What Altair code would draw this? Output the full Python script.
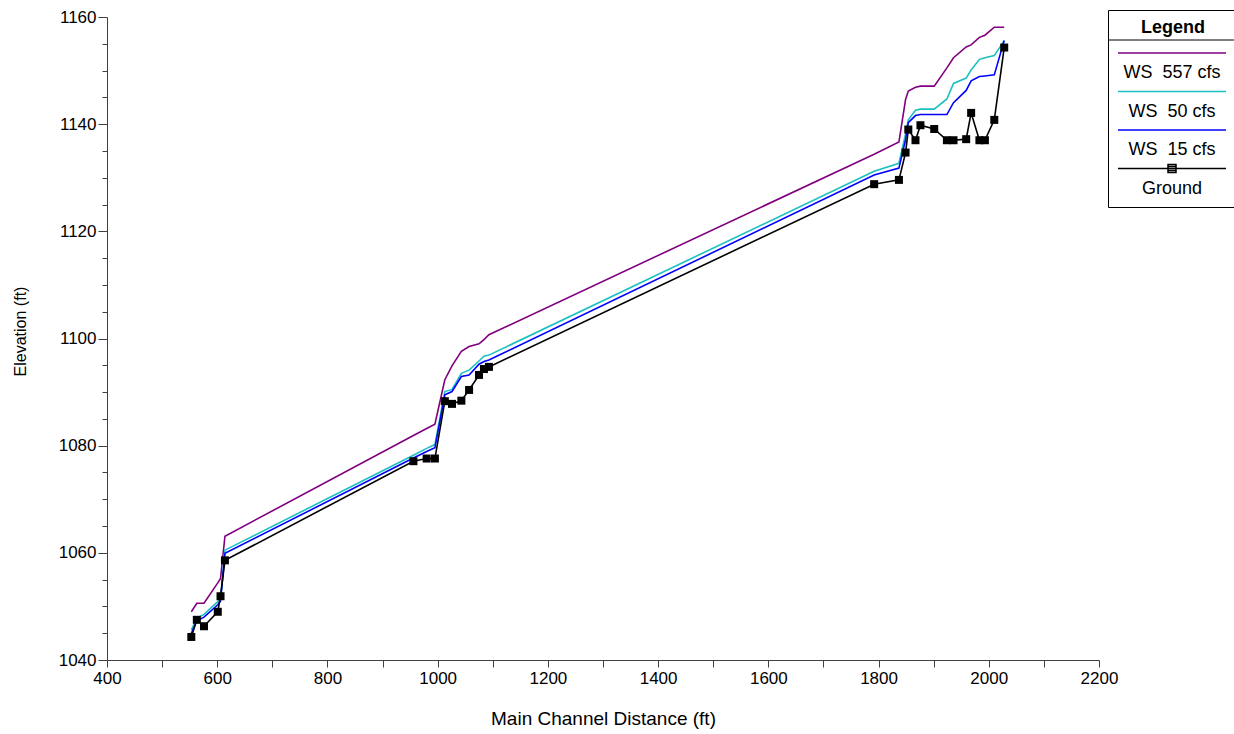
import altair as alt
import pandas as pd

# Main channel distance of each cross section (ft)
stations = [553, 563, 576, 601, 606, 614, 956, 980, 995, 1013, 1026, 1043, 1057, 1075, 1084, 1093,
            1792, 1837, 1849, 1854, 1867, 1876, 1901, 1924, 1936, 1959, 1968, 1983, 1993, 2010, 2028]

# Elevations (ft)
ground = [1044.3, 1047.5, 1046.3, 1049.0, 1051.9, 1058.6, 1077.1, 1077.6, 1077.6, 1088.3, 1087.8,
          1088.4, 1090.4, 1093.2, 1094.3, 1094.7, 1128.8, 1129.6, 1134.7, 1139.0, 1137.0, 1139.8,
          1139.1, 1137.0, 1137.0, 1137.2, 1142.1, 1137.0, 1137.0, 1140.8, 1154.3]
ws15 = [1045.0, 1047.3, 1048.0, 1050.3, 1051.0, 1059.9, 1077.7, 1078.9, 1079.6, 1089.5, 1090.1,
        1092.9, 1093.2, 1095.2, 1095.7, 1096.0, 1130.5, 1131.8, 1137.1, 1140.3, 1141.6, 1141.8,
        1141.8, 1141.8, 1144.0, 1146.3, 1148.1, 1148.9, 1149.0, 1149.2, 1155.6]
ws50 = [1045.6, 1047.8, 1048.5, 1050.9, 1051.5, 1060.5, 1078.2, 1079.5, 1080.2, 1090.1, 1090.5,
        1093.5, 1094.1, 1095.8, 1096.7, 1096.9, 1131.2, 1132.7, 1138.2, 1140.8, 1142.6, 1142.8,
        1142.8, 1144.7, 1147.6, 1148.6, 1150.1, 1152.1, 1152.4, 1152.8, 1155.6]
ws557 = [1049.0, 1050.6, 1050.6, 1054.4, 1055.2, 1063.1, 1081.9, 1083.2, 1084.0, 1092.3, 1094.9,
         1097.6, 1098.5, 1099.0, 1099.8, 1100.7, 1134.4, 1136.7, 1144.6, 1146.2, 1146.9, 1147.1,
         1147.1, 1150.5, 1152.4, 1154.4, 1154.8, 1156.2, 1156.6, 1158.1, 1158.1]

series_names = ["WS\u00a0\u00a0557 cfs", "WS\u00a0\u00a050 cfs", "WS\u00a0\u00a015 cfs", "Ground"]
series_colors = ["#800080", "#1CC0C0", "#0000FF", "#000000"]
x_ticks = list(range(400, 2201, 100))
y_ticks = list(range(1040, 1161, 5))

rows = []
for name, vals in zip(series_names, [ws557, ws50, ws15, ground]):
    for i, (xv, yv) in enumerate(zip(stations, vals)):
        rows.append({"series": name, "order": i, "dist": xv, "elev": yv})
df = pd.DataFrame(rows)
ws_df = df[df["series"] != "Ground"]
gr_df = df[df["series"] == "Ground"]

FONT = "Liberation Sans"

# legend symbols: a long line above the label; Ground gets a square marker
ws_path = "M-9,-4H12.6M-9,-4.8"
gr_path = ("M-9,-4H12.6M1,-4.8H2.6V-3.2H1Z"
           "M1,-4.4H2.6M1,-4H2.6M1,-3.6H2.6")

x_enc = alt.X("dist:Q", scale=alt.Scale(domain=[400, 2200], nice=False, zero=False),
              axis=alt.Axis(title="Main Channel Distance (ft)", values=x_ticks, format="d",
                            labelExpr="datum.value % 200 === 0 ? datum.label : ''",
                            tickSize=7, labelPadding=3, labelFlush=False, labelOverlap=False,
                            titleY=58, titleBaseline="middle", titleFontSize=19))
y_enc = alt.Y("elev:Q", scale=alt.Scale(domain=[1040, 1160], nice=False, zero=False),
              axis=alt.Axis(title="Elevation (ft)", values=y_ticks, format="d",
                            labelExpr="datum.value % 20 === 0 ? datum.label : ''",
                            tickSize={"condition": {"test": "datum.value % 20 === 0", "value": 9},
                                      "value": 5},
                            labelPadding=2, labelFlush=False, labelOverlap=False,
                            titleX=-87, titleY=314, titleAngle=270, titleFontSize=16,
                            titleBaseline="middle", titleAlign="center"))

# stroke scale for the drawn lines (domain listed in another order so that it
# stays a separate scale from the legend's colour scale)
line_stroke = alt.Stroke(
    "series:N",
    scale=alt.Scale(domain=series_names[::-1], range=series_colors[::-1]),
    legend=None,
)

ws_lines = alt.Chart(ws_df).mark_line(strokeWidth=1.6).encode(
    x=x_enc, y=y_enc, stroke=line_stroke, order="order:Q",
)
gr_line = alt.Chart(gr_df).mark_line(strokeWidth=1.6).encode(
    x=x_enc, y=y_enc, stroke=line_stroke, order="order:Q",
)
gr_pts = alt.Chart(gr_df).mark_square(size=64, opacity=1, color="black", filled=True).encode(
    x=x_enc, y=y_enc,
)

legend = alt.Legend(
    title="Legend", orient="none", legendX=1001, legendY=-7, direction="vertical",
    strokeColor="black", padding=9,
    titleFont=FONT, titleFontSize=18, titleFontWeight="bold", titleAnchor="middle",
    titlePadding=27, titleColor="black",
    labelFont=FONT, labelFontSize=18, labelColor="black", labelAlign="center",
    labelBaseline="middle", labelOffset=0, labelLimit=300,
    symbolOffset=37, symbolSize=100, symbolStrokeWidth=1.5, symbolOpacity=1,
    rowPadding=2.5,
)
legend_pts = alt.Chart(df).mark_point(opacity=0, filled=False, strokeWidth=1.5).encode(
    x=x_enc, y=y_enc,
    color=alt.Color("series:N", scale=alt.Scale(domain=series_names, range=series_colors),
                    legend=legend),
    shape=alt.Shape("series:N",
                    scale=alt.Scale(domain=series_names,
                                    range=[ws_path, ws_path, ws_path, gr_path]),
                    legend=legend),
)

sep = alt.Chart(pd.DataFrame({"k": [0]})).mark_rule(color="black", strokeWidth=1).encode(
    x=alt.value(1001), x2=alt.value(1127), y=alt.value(23)
)

chart = alt.layer(ws_lines, gr_line, gr_pts, legend_pts, sep).properties(
    width=992, height=643,
    autosize=alt.AutoSizeParams(type="none"),
    padding={"left": 107, "top": 17, "right": 135, "bottom": 74},
    background="white",
).configure_axis(
    grid=False, domainColor="#404040", tickColor="#404040",
    labelFont=FONT, labelFontSize=17, labelColor="black",
    titleFont=FONT, titleFontWeight="normal", titleColor="black",
).configure_view(stroke=None)

chart.save("out.html", embed_options={"renderer": "svg", "actions": False})
